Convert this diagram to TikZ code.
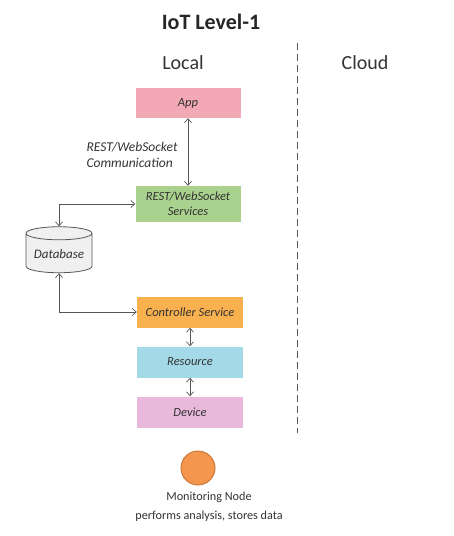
\documentclass[tikz,border=0pt]{standalone}
\usepackage{fontspec}
\setmainfont{Carlito}
\usetikzlibrary{arrows.meta,shapes.geometric}
\definecolor{apppink}{HTML}{F3A8B5}
\definecolor{restgreen}{HTML}{AAD28F}
\definecolor{ctrlorange}{HTML}{F9B14F}
\definecolor{resblue}{HTML}{A4D9E8}
\definecolor{devpink}{HTML}{E9B9DC}
\definecolor{linegray}{HTML}{555555}
\definecolor{txtgray}{HTML}{333333}
\definecolor{monorange}{HTML}{F5964E}
\definecolor{monborder}{HTML}{C87A3C}
\begin{document}
\begin{tikzpicture}[x=1pt,y=-1pt,
  box/.style={minimum width=106pt,minimum height=31pt,inner sep=1pt,align=center,
    font=\fontsize{12.5}{15}\selectfont\itshape,text=txtgray},
  conn/.style={draw=linegray,line width=0.7pt,{Straight Barb[length=4pt,width=7pt]}-{Straight Barb[length=4pt,width=7pt]}}
]
\useasboundingbox (0,0) rectangle (453,536);
\node[font=\fontsize{22}{24}\selectfont\bfseries,text=black!85] (title) at (211,22) {IoT Level-1};
\node[font=\fontsize{20}{22}\selectfont,text=txtgray] (local) at (183,63) {Local};
\node[font=\fontsize{20}{22}\selectfont,text=txtgray] (cloud) at (365,63) {Cloud};
\coordinate (dtop) at (297,43);
\coordinate (dbot) at (297,433);
\draw[linegray,line width=1pt,dash pattern=on 7pt off 4pt] (dtop) -- (dbot);

\node[box,fill=apppink,minimum width=105pt,minimum height=30pt] (app) at (188,103) {App};
\node[box,fill=restgreen,minimum width=105pt,minimum height=36pt] (rest) at (188,204) {REST/WebSocket\\Services};
\node[box,fill=ctrlorange] (ctrl) at (190,312) {Controller Service};
\node[box,fill=resblue] (res) at (190,362) {Resource};
\node[box,fill=devpink] (dev) at (190,412) {Device};

\node[cylinder,shape border rotate=90,aspect=0.25,draw=linegray,fill=gray!12,line width=0.8pt,
  minimum width=66pt,minimum height=46pt,inner sep=1pt,
  font=\fontsize{13}{15}\selectfont\itshape,text=txtgray] (db) at (59,254) {Database};

\node[align=left,font=\fontsize{13.5}{16}\selectfont\itshape,text=txtgray,anchor=west] (lbl) at (83,155) {REST/WebSocket\\Communication};

\draw[conn] (app.south) -- (rest.north);
\draw[conn] (db.north) |- (rest.west);
\draw[conn] (db.south) |- (ctrl.west);
\draw[conn] (ctrl.south) -- (res.north);
\draw[conn] (res.south) -- (dev.north);

\node[circle,fill=monorange,draw=monborder,line width=1pt,minimum size=34pt] (mon) at (198,468) {};
\node[align=center,font=\fontsize{12.2}{19}\selectfont,text=txtgray] (montxt) at (209,507) {Monitoring Node\\performs analysis, stores data};
\end{tikzpicture}
\end{document}
